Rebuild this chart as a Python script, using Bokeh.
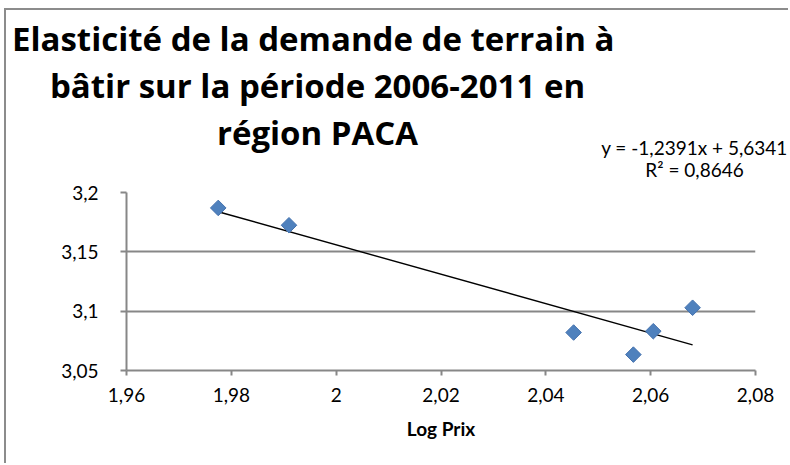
import numpy as np
from bokeh.plotting import figure
from bokeh.models import FixedTicker, Range1d, ColumnDataSource
from bokeh.layouts import column
from bokeh.core.properties import value
from bokeh.embed import file_html
from bokeh.resources import INLINE

# ---- data ----
log_prix = [1.9775, 1.991, 2.0453, 2.0567, 2.0605, 2.068]
log_demande = [3.187, 3.1724, 3.082, 3.0634, 3.0831, 3.1029]

x_ticks = [1.96, 1.98, 2.0, 2.02, 2.04, 2.06, 2.08]
x_tick_labels = ["1,96", "1,98", "2", "2,02", "2,04", "2,06", "2,08"]
y_ticks = [3.05, 3.1, 3.15, 3.2]
y_tick_labels = ["3,05", "3,1", "3,15", "3,2"]

trend_slope = -1.2391
trend_intercept = 5.6341

title_lines = ["Elasticité  de la demande de terrain à",
               "bâtir sur la période 2006-2011 en",
               "région PACA"]
equation_lines = ["y = -1,2391x + 5,6341", "R² = 0,8646"]
x_label = "Log Prix"

FONT = "Lato"
TITLE_FONT = "Open Sans"
GRAY = "#878787"

# ---- layout (pixels) ----
W = 782
HH = 172          # header (title + equation) height
H2 = 281          # chart height
ML, MR, MT, MB = 120, 33, 10, 93

# ---- header: title and trendline equation ----
hdr = figure(width=W, height=HH, x_range=Range1d(0, W), y_range=Range1d(HH, 0),
             output_backend="svg", toolbar_location=None,
             x_axis_location=None, y_axis_location=None, frame_align=False,
             min_border=0, min_border_left=0, min_border_right=0,
             min_border_top=0, min_border_bottom=0)
hdr.outline_line_color = None
hdr.xgrid.visible = False
hdr.ygrid.visible = False

title_src = ColumnDataSource(dict(x=[311, 311, 311], y=[28, 75, 121.5], text=title_lines))
hdr.text(x="x", y="y", text="text", source=title_src, text_align="center",
         text_baseline="alphabetic", text_font=value(TITLE_FONT), text_font_size="33px",
         text_font_style="bold", text_color="black")

eq_src = ColumnDataSource(dict(x=[688, 688], y=[137, 158.5], text=equation_lines))
hdr.text(x="x", y="y", text="text", source=eq_src, text_align="center",
         text_baseline="alphabetic", text_font=value(FONT), text_font_size="19px",
         text_color="black")

# ---- chart ----
p = figure(width=W, height=H2, x_range=Range1d(1.96, 2.08), y_range=Range1d(3.05, 3.2),
           output_backend="svg", toolbar_location=None, frame_align=False,
           min_border_left=ML, min_border_right=MR, min_border_top=MT, min_border_bottom=MB)
p.outline_line_color = None

p.xgrid.visible = False
p.ygrid.grid_line_color = GRAY
p.ygrid.grid_line_width = 2
p.ygrid.ticker = FixedTicker(ticks=y_ticks)

p.xaxis.ticker = FixedTicker(ticks=x_ticks)
p.xaxis.major_label_overrides = dict(zip(x_ticks, x_tick_labels))
p.yaxis.ticker = FixedTicker(ticks=y_ticks)
p.yaxis.major_label_overrides = dict(zip(y_ticks, y_tick_labels))

for ax in (p.xaxis[0], p.yaxis[0]):
    ax.axis_line_color = GRAY
    ax.axis_line_width = 2
    ax.major_tick_line_color = GRAY
    ax.major_tick_line_width = 2
    ax.major_tick_in = 0
    ax.minor_tick_in = 0
    ax.minor_tick_out = 0
    ax.major_label_text_font = FONT
    ax.major_label_text_font_size = "19px"
    ax.major_label_text_color = "black"

p.yaxis.major_tick_out = 6
p.yaxis.major_label_standoff = 22
p.xaxis.major_tick_out = 5
p.xaxis.major_label_standoff = 12

p.xaxis.axis_label = x_label
p.xaxis.axis_label_text_font = FONT
p.xaxis.axis_label_text_font_size = "19px"
p.xaxis.axis_label_text_font_style = "bold"
p.xaxis.axis_label_text_color = "black"
p.xaxis.axis_label_standoff = 12

# trendline over the range of the data
tx = [min(log_prix), max(log_prix)]
ty = [trend_slope * v + trend_intercept for v in tx]
p.line(tx, ty, line_color="black", line_width=1.4)

# points (Excel-style diamonds)
p.scatter(log_prix, log_demande, marker="square", angle=np.pi / 4, size=11,
          fill_color="#4F81BD", line_color="#4572AE", line_width=1)

layout = column(hdr, p, spacing=0,
                styles={"margin-left": "4px", "margin-top": "8px",
                        "border-left": "2px solid #8c8c8c", "border-top": "2px solid #8c8c8c"})

open("out.html", "w").write(file_html(layout, INLINE))
